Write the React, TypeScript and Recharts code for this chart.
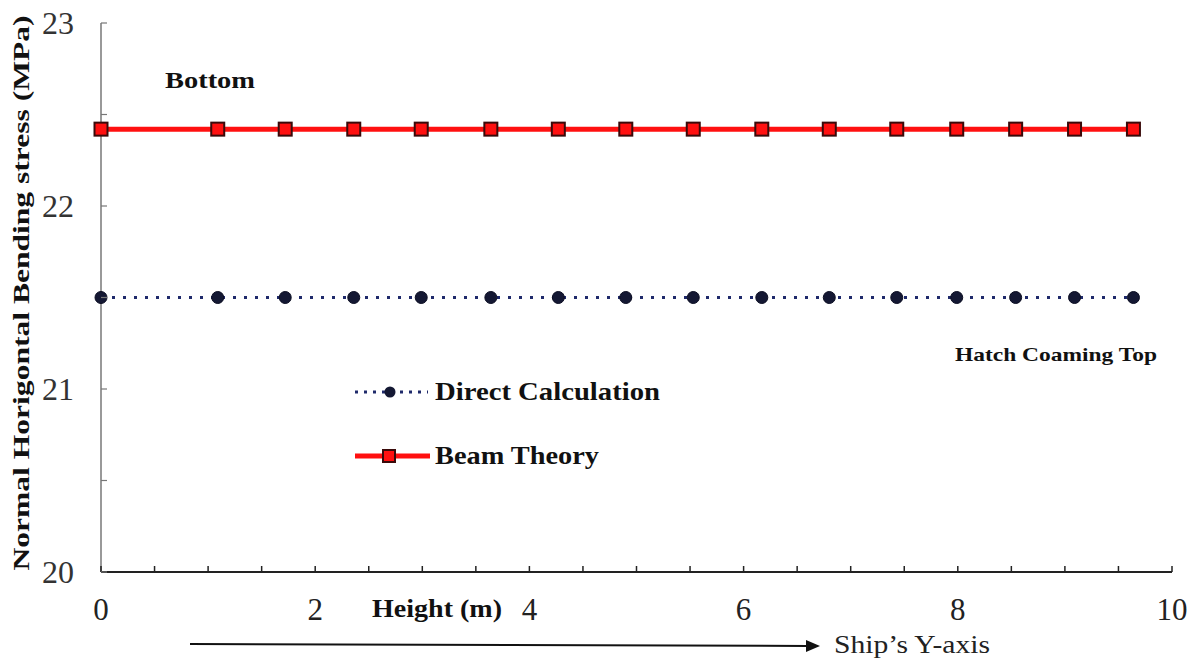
import React from 'react';
import { LineChart, Line, XAxis, YAxis } from 'recharts';

const heights = [0, 1.09, 1.72, 2.36, 2.99, 3.64, 4.27, 4.9, 5.53, 6.17, 6.8, 7.43, 7.99, 8.54, 9.09, 9.64];
const directCalculation = [21.5, 21.5, 21.5, 21.5, 21.5, 21.5, 21.5, 21.5, 21.5, 21.5, 21.5, 21.5, 21.5, 21.5, 21.5, 21.5];
const beamTheory = [22.42, 22.42, 22.42, 22.42, 22.42, 22.42, 22.42, 22.42, 22.42, 22.42, 22.42, 22.42, 22.42, 22.42, 22.42, 22.42];
const xTicks = [0, 0.5, 1, 1.5, 2, 2.5, 3, 3.5, 4, 4.5, 5, 5.5, 6, 6.5, 7, 7.5, 8, 8.5, 9, 9.5, 10];
const xTickLabels = [0, 2, 4, 6, 8, 10];
const yTicks = [20, 20.5, 21, 21.5, 22, 22.5, 23];
const yTickLabels = [20, 21, 22, 23];

const data = heights.map((x, i) => ({ x, direct: directCalculation[i], beam: beamTheory[i] }));

const FONT = '"Liberation Serif", "DejaVu Serif", serif';

const XTick = (props: any) => {
  const { x, y, payload } = props;
  const v = payload.value;
  return (
    <g>
      <line x1={x} y1={y} x2={x} y2={y - 6} stroke="#222" strokeWidth={1.5} />
      {xTickLabels.includes(v) && (
        <text x={x} y={y + 48} textAnchor="middle" fontFamily={FONT} fontSize={31} fill="#222">
          {v}
        </text>
      )}
    </g>
  );
};

const YTick = (props: any) => {
  const { x, y, payload } = props;
  const v = payload.value;
  return (
    <g>
      <line x1={x} y1={y} x2={x + 6} y2={y} stroke="#777" strokeWidth={1.2} />
      {yTickLabels.includes(v) && (
        <text x={x - 27} y={y + 11} textAnchor="end" fontFamily={FONT} fontSize={32} fill="#333">
          {v}
        </text>
      )}
    </g>
  );
};

const SquareDot = (props: any) => {
  const { cx, cy, index } = props;
  if (cx == null || cy == null) return <g key={`s-${index}`} />;
  return <rect key={`s-${index}`} x={cx - 6.5} y={cy - 6.5} width={13} height={13} fill="#ff1010" stroke="#3a0a0a" strokeWidth={2} />;
};

const CircleDot = (props: any) => {
  const { cx, cy, index } = props;
  if (cx == null || cy == null) return <g key={`c-${index}`} />;
  return <circle key={`c-${index}`} cx={cx} cy={cy} r={6} fill="#141833" stroke="#0b0d22" strokeWidth={1} />;
};

export default function App() {
  return (
    <div style={{ position: 'absolute', left: 0, top: 0, width: 1196, height: 660, background: '#fff' }}>
      <LineChart width={1196} height={660} data={data} margin={{ top: 23, right: 24, bottom: 48, left: 41 }}>
        <XAxis
          dataKey="x"
          type="number"
          domain={[0, 10]}
          ticks={xTicks}
          interval={0}
          tick={<XTick />}
          tickSize={0}
          tickMargin={0}
          tickLine={false}
          axisLine={{ stroke: '#222', strokeWidth: 2 }}
          height={40}
        />
        <YAxis
          type="number"
          domain={[20, 23]}
          ticks={yTicks}
          interval={0}
          tick={<YTick />}
          tickSize={0}
          tickMargin={0}
          tickLine={false}
          axisLine={{ stroke: '#777', strokeWidth: 1.5 }}
          width={60}
        />
        <Line
          name="Beam Theory"
          dataKey="beam"
          stroke="#ff1010"
          strokeWidth={5}
          dot={<SquareDot />}
          isAnimationActive={false}
        />
        <Line
          name="Direct Calculation"
          dataKey="direct"
          stroke="#1f2a6b"
          strokeWidth={3}
          strokeDasharray="3 8"
          dot={<CircleDot />}
          isAnimationActive={false}
        />
      </LineChart>
      <svg width={1196} height={660} style={{ position: 'absolute', left: 0, top: 0, pointerEvents: 'none' }}>
        {/* legend */}
        <line x1={355} y1={392} x2={428} y2={392} stroke="#1f2a6b" strokeWidth={3} strokeDasharray="3 6" />
        <circle cx={390} cy={392} r={5.5} fill="#141833" />
        <text x={435} y={400} fontFamily={FONT} fontSize={25} fontWeight={600} fill="#111" textLength={225} lengthAdjust="spacingAndGlyphs">Direct Calculation</text>
        <line x1={355} y1={456} x2={430} y2={456} stroke="#ff1010" strokeWidth={5} />
        <rect x={383} y={450} width={12} height={12} fill="#ff1010" stroke="#3a0a0a" strokeWidth={2} />
        <text x={435} y={464} fontFamily={FONT} fontSize={25} fontWeight={600} fill="#111" textLength={164} lengthAdjust="spacingAndGlyphs">Beam Theory</text>

        <text
          transform="translate(29, 293) rotate(-90)"
          textAnchor="middle"
          fontFamily={FONT}
          fontSize={23}
          fontWeight="bold"
          fill="#111"
          textLength={555}
          lengthAdjust="spacingAndGlyphs"
        >
          Normal Horigontal Bending stress (MPa)
        </text>
        <text x={165} y={88} fontFamily={FONT} fontSize={24} fontWeight="bold" fill="#111" textLength={90} lengthAdjust="spacingAndGlyphs">Bottom</text>
        <text x={955} y={361} fontFamily={FONT} fontSize={19} fontWeight="bold" fill="#111" textLength={202} lengthAdjust="spacingAndGlyphs">Hatch Coaming Top</text>
        <text x={372} y={617} fontFamily={FONT} fontSize={25} fontWeight="bold" fill="#111" textLength={130} lengthAdjust="spacingAndGlyphs">Height (m)</text>
        <line x1={190} y1={644} x2={808} y2={646} stroke="#111" strokeWidth={2} />
        <polygon points="820,646 806,640 806,652" fill="#111" />
        <text x={834} y={653} fontFamily={FONT} fontSize={25} fill="#222" textLength={156} lengthAdjust="spacingAndGlyphs">Ship’s Y-axis</text>
      </svg>
    </div>
  );
}
